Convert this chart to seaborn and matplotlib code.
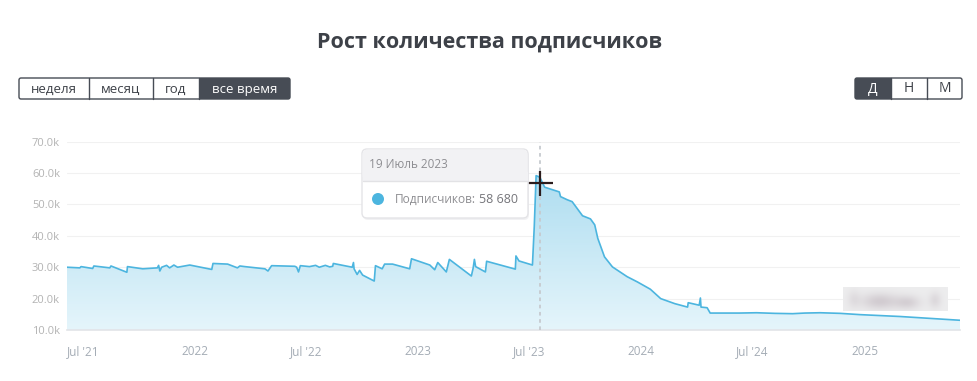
import numpy as np
import pandas as pd
import matplotlib
matplotlib.use("Agg")
import matplotlib.pyplot as plt
import matplotlib.dates as mdates
import matplotlib.transforms as mtransforms
from matplotlib.colors import LinearSegmentedColormap
from matplotlib.patches import FancyBboxPatch, Rectangle, Circle
import seaborn as sns

# -----------------------
# Data
# -----------------------
dates = [
    "2021-06-05", "2021-06-26", "2021-06-28", "2021-07-17", "2021-07-19", "2021-08-14",
    "2021-08-16", "2021-09-11", "2021-09-12", "2021-10-07", "2021-10-31", "2021-11-02",
    "2021-11-04", "2021-11-07", "2021-11-15", "2021-11-20", "2021-11-27", "2021-12-03",
    "2021-12-23", "2022-01-28", "2022-01-30", "2022-02-23", "2022-03-11", "2022-03-15",
    "2022-03-23", "2022-04-25", "2022-04-30", "2022-05-06", "2022-06-13", "2022-06-16",
    "2022-06-19", "2022-06-22", "2022-07-07", "2022-07-17", "2022-07-23", "2022-08-02",
    "2022-08-09", "2022-08-14", "2022-08-15", "2022-09-15", "2022-09-17", "2022-09-18",
    "2022-09-23", "2022-09-27", "2022-10-02", "2022-10-21", "2022-10-23", "2022-11-03",
    "2022-11-07", "2022-11-20", "2022-12-18", "2022-12-21", "2023-01-20", "2023-01-28",
    "2023-02-02", "2023-02-16", "2023-02-21", "2023-03-29", "2023-04-01", "2023-04-03",
    "2023-04-05", "2023-04-21", "2023-04-23", "2023-06-09", "2023-06-10", "2023-06-15",
    "2023-07-07", "2023-07-10", "2023-07-13", "2023-07-19", "2023-07-27", "2023-08-20",
    "2023-08-22", "2023-09-02", "2023-09-10", "2023-09-27", "2023-10-10", "2023-10-17",
    "2023-10-22", "2023-11-02", "2023-11-15", "2023-12-09", "2023-12-26", "2024-01-16",
    "2024-02-02", "2024-02-25", "2024-03-17", "2024-03-18", "2024-04-05", "2024-04-07",
    "2024-04-08", "2024-04-18", "2024-04-23", "2024-06-10", "2024-07-08", "2024-08-07",
    "2024-09-05", "2024-09-25", "2024-10-20", "2024-11-22", "2024-12-24", "2025-02-28",
    "2025-06-06",
]
subscribers = [
    30000, 29800, 30200, 29600, 30400, 29800,
    30400, 28400, 30200, 29500, 29800, 30600,
    28800, 30000, 30600, 29800, 30700, 30000,
    30700, 29300, 31200, 31000, 29800, 30400,
    30200, 29500, 28800, 30500, 30300, 30000,
    28500, 30500, 30200, 30600, 30000, 30600,
    30100, 30300, 31200, 30000, 31500, 29500,
    27700, 29000, 27500, 25600, 30500, 29500,
    31000, 31000, 29500, 32700, 30700, 29200,
    31500, 28500, 32500, 27200, 29800, 32500,
    30200, 28500, 31900, 29400, 33600, 32000,
    30700, 43000, 59200, 58680, 55500, 54000,
    52500, 51500, 50900, 46400, 45400, 43500,
    39200, 33300, 30100, 27000, 25300, 23000,
    20000, 18400, 17300, 18700, 17900, 20200,
    17300, 17100, 15400, 15400, 15500, 15300,
    15200, 15400, 15500, 15300, 14900, 14300,
    13100,
]

tick_dates = ["2021-07-01", "2022-01-01", "2022-07-01", "2023-01-01",
              "2023-07-01", "2024-01-01", "2024-07-01", "2025-01-01"]
tick_labels = ["Jul '21", "2022", "Jul '22", "2023", "Jul '23", "2024", "Jul '24", "2025"]
y_ticks = [10000, 20000, 30000, 40000, 50000, 60000, 70000]
y_labels = ["10.0k", "20.0k", "30.0k", "40.0k", "50.0k", "60.0k", "70.0k"]

periods = ["неделя", "месяц", "год", "все время"]
units = ["Д", "Н", "М"]

tip_date = "2023-07-19"
tip_label = "19 Июль 2023"
tip_value = 58680

df = pd.DataFrame({"date": pd.to_datetime(dates), "subs": subscribers})

# -----------------------
# Style
# -----------------------
sns.set_theme(style="white")
plt.rcParams["font.family"] = ["Open Sans", "DejaVu Sans"]

LINE = "#4cb5df"
DARK = "#474c55"
TEXT = "#3d4148"

W, H = 978, 381
fig = plt.figure(figsize=(W / 100, H / 100), dpi=100)


def fx(px):
    return px / W


def fy(py):
    return 1 - py / H


ax = fig.add_axes([fx(67), fy(330), fx(960) - fx(67), fy(141.7) - fy(330)])

# gradient area under the line
poly = ax.fill_between(df["date"], df["subs"], 10000, color="none", lw=0)
x0 = mdates.date2num(df["date"].min())
x1 = mdates.date2num(df["date"].max())
grad = np.linspace(0, 1, 256).reshape(-1, 1)
cmap = LinearSegmentedColormap.from_list("fill", ["#e5f5fb", "#a2d8ee"])
img = ax.imshow(grad, extent=[x0, x1, 10000, 70000], origin="lower",
                aspect="auto", cmap=cmap, zorder=1)
img.set_clip_path(poly.get_paths()[0], transform=ax.transData)

sns.lineplot(data=df, x="date", y="subs", color=LINE, linewidth=1.2, ax=ax, zorder=3)

ax.set_xlim(x0, x1)
ax.set_ylim(10000, 70000)
ax.set_xlabel("")
ax.set_ylabel("")

ax.set_yticks(y_ticks)
ax.set_yticklabels(y_labels, fontsize=8, color="#b3b3b3")
ax.set_xticks(pd.to_datetime(tick_dates))
ax.set_xticklabels(tick_labels, fontsize=8.5, color="#a4acb5")
ax.tick_params(axis="y", length=0, pad=5)
ax.tick_params(axis="x", length=5, width=1, color="#e2e4e8", pad=6, direction="out")
ax.yaxis.grid(True, color="#f1f1f1", linewidth=0.8)
ax.xaxis.grid(False)
for side in ["top", "right", "left"]:
    ax.spines[side].set_visible(False)
ax.spines["bottom"].set_color("#e2e4e8")
ax.spines["bottom"].set_linewidth(1.2)

# hover line and cursor
ax.axvline(pd.to_datetime(tip_date), color="#c6cacf", linestyle=(0, (2, 2)), lw=1.3, zorder=4)
cursor_tr = mtransforms.offset_copy(ax.transData, fig=fig, x=0, y=-6, units="dots")
ax.plot(pd.to_datetime(tip_date), tip_value, marker="+", ms=18, mew=1.6,
        color="#2a1c1c", transform=cursor_tr, zorder=6)

# -----------------------
# Overlay in pixel coordinates (title, buttons, tooltip)
# -----------------------
ov = fig.add_axes([0, 0, 1, 1])
ov.set_xlim(0, W)
ov.set_ylim(H, 0)
ov.axis("off")
ov.patch.set_alpha(0)

ov.text(490, 42, "Рост количества подписчиков", ha="center", va="center",
        fontsize=15.5, fontweight="bold", color=TEXT)

# period buttons
edges = [19, 89, 153, 199, 290]
ov.add_patch(Rectangle((edges[3], 78), edges[4] - edges[3], 21, facecolor=DARK, edgecolor="none"))
ov.add_patch(FancyBboxPatch((edges[0], 78), edges[-1] - edges[0], 21,
                            boxstyle="round,pad=0,rounding_size=2", facecolor="none",
                            edgecolor=DARK, lw=1))
for i, lab in enumerate(periods):
    if i > 0:
        ov.plot([edges[i], edges[i]], [78, 99], color=DARK, lw=1)
    ov.text((edges[i] + edges[i + 1]) / 2, 89, lab, ha="center", va="center",
            fontsize=9.5, color="white" if i == 3 else TEXT)

# unit buttons
uedges = [855, 891, 927, 962]
ov.add_patch(Rectangle((uedges[0], 78), uedges[1] - uedges[0], 21, facecolor=DARK, edgecolor="none"))
ov.add_patch(FancyBboxPatch((uedges[0], 78), uedges[-1] - uedges[0], 21,
                            boxstyle="round,pad=0,rounding_size=2", facecolor="none",
                            edgecolor=DARK, lw=1))
for i, lab in enumerate(units):
    if i > 0:
        ov.plot([uedges[i], uedges[i]], [78, 99], color=DARK, lw=1)
    ov.text((uedges[i] + uedges[i + 1]) / 2, 89, lab, ha="center", va="center",
            fontsize=10, color="white" if i == 0 else TEXT)

# tooltip
ov.add_patch(FancyBboxPatch((363, 151), 166, 69, boxstyle="round,pad=0,rounding_size=5",
                            facecolor="#e9e9ec", edgecolor="none", alpha=0.6))
ov.add_patch(FancyBboxPatch((362, 149), 166, 69, boxstyle="round,pad=0,rounding_size=5",
                            facecolor="white", edgecolor="#e4e4e7", lw=1))
ov.add_patch(FancyBboxPatch((362.5, 149.5), 165, 31, boxstyle="round,pad=0,rounding_size=5",
                            facecolor="#f2f2f4", edgecolor="none"))
ov.add_patch(Rectangle((362.5, 172), 165, 8.5, facecolor="#f2f2f4", edgecolor="none"))
ov.plot([362.5, 527.5], [180.5, 180.5], color="#e2e2e5", lw=1)
ov.text(369, 164.5, tip_label, ha="left", va="center", fontsize=8.5, color="#8e8e92")
ov.add_patch(Circle((378, 199), 6, facecolor=LINE, edgecolor="none"))
ov.text(395, 199.5, "Подписчиков:", ha="left", va="center", fontsize=8.6, color="#8e8e92")
ov.text(518, 199.5, f"{tip_value:,}".replace(",", " "), ha="right", va="center",
        fontsize=9, color="#75757a")

# blurred watermark area (soft gray smudge)
gx, gy = np.meshgrid(np.linspace(0, 1, 120), np.linspace(0, 1, 30))
smudge = np.exp(-((gx - 0.35) / 0.18) ** 2 - ((gy - 0.6) / 0.35) ** 2)
smudge += 0.8 * np.exp(-((gx - 0.62) / 0.12) ** 2 - ((gy - 0.65) / 0.3) ** 2)
smudge += 0.6 * np.exp(-((gx - 0.88) / 0.06) ** 2 - ((gy - 0.55) / 0.35) ** 2)
smudge += 0.4 * np.exp(-((gx - 0.1) / 0.06) ** 2 - ((gy - 0.5) / 0.4) ** 2)
smudge = np.clip(smudge, 0, 1)
smudge_cmap = LinearSegmentedColormap.from_list("smudge", ["#ededee", "#d2ccd1"])
ov.imshow(smudge, extent=[843, 948, 311, 287], cmap=smudge_cmap, aspect="auto",
          interpolation="bilinear", zorder=5)
ov.set_xlim(0, W)
ov.set_ylim(H, 0)

fig.savefig("out.png", dpi=100)
